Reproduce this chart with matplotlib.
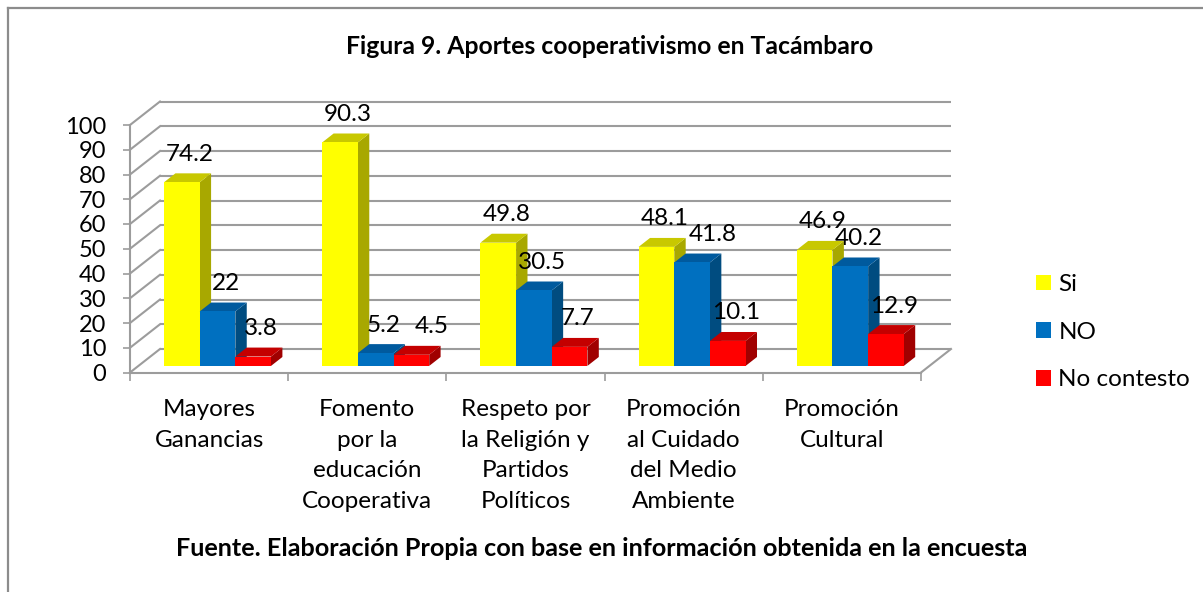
import matplotlib
matplotlib.use("Agg")
import matplotlib.pyplot as plt
from matplotlib.patches import Polygon
from matplotlib.lines import Line2D
import numpy as np

categories = ["Mayores\nGanancias", "Fomento\npor la\neducación\nCooperativa",
              "Respeto por\nla Religión y\nPartidos\nPolíticos",
              "Promoción\nal Cuidado\ndel Medio\nAmbiente", "Promoción\nCultural"]
series_names = ["Si", "NO", "No contesto"]
si = [74.2, 90.3, 49.8, 48.1, 46.9]
no = [22, 5.2, 30.5, 41.8, 40.2]
no_contesto = [3.8, 4.5, 7.7, 10.1, 12.9]
value_labels = [["74.2", "90.3", "49.8", "48.1", "46.9"],
                ["22", "5.2", "30.5", "41.8", "40.2"],
                ["3.8", "4.5", "7.7", "10.1", "12.9"]]
y_ticks = list(range(0, 101, 10))

title = "Figura 9. Aportes cooperativismo en Tacámbaro"
footer = "Fuente. Elaboración Propia con base en información obtenida en la encuesta"

FONT = "Lato"
plt.rcParams["font.family"] = [FONT, "DejaVu Sans"]

W, H = 1203, 592
fig = plt.figure(figsize=(W / 100, H / 100), dpi=100)
fig.patch.set_facecolor("white")

# front plane of the plot in pixels
x0_px, x1_px = 130, 921
y0_px, y100_px = 372.5, 125
ax = fig.add_axes([x0_px / W, (H - y0_px) / H, (x1_px - x0_px) / W, (y0_px - y100_px) / H])
ncat = len(categories)
ax.set_xlim(0, ncat)
ax.set_ylim(0, 100)
ux = (x1_px - x0_px) / ncat
uy = (y0_px - y100_px) / 100.0

# depth vector (front->back) in data units
DX = 30 / ux
DY = 23.5 / uy

grid_c = "#9c9c9c"
glw = 1.5
# back wall gridlines and left wall diagonals
for v in y_ticks:
    ax.plot([DX, ncat + DX], [v + DY, v + DY], color=grid_c, lw=glw, clip_on=False, zorder=1,
            solid_capstyle="butt")
    ax.plot([0, DX], [v, v + DY], color=grid_c, lw=glw, clip_on=False, zorder=1)
# floor right edge
ax.plot([ncat, ncat + DX], [0, DY], color=grid_c, lw=glw, clip_on=False, zorder=1)

colors = [("#FFFF00", "#A8A800", "#C8C800"),
          ("#0070C0", "#004C80", "#005A9E"),
          ("#FF0000", "#A00000", "#C40000")]
series = [si, no, no_contesto]

d0 = 0.28     # depth of front face of bars
dd = 0.38     # depth of bars
bw = 0.2254
gstart = 0.162
bx = d0 * DX
by = d0 * DY
ddx = dd * DX
ddy = dd * DY

# extra horizontal nudges (pixels) for labels that would collide
label_nudge = {(1, 3): 13, (2, 1): 12}

handles = []
for i in range(ncat):
    for s, vals in enumerate(series):
        v = vals[i]
        xl = i + gstart + s * bw + bx
        xr = xl + bw
        front, side, top = colors[s]
        side_poly = Polygon([(xr, by), (xr + ddx, by + ddy), (xr + ddx, by + v + ddy), (xr, by + v)],
                            closed=True, facecolor=side, edgecolor="none", clip_on=False, zorder=3)
        top_poly = Polygon([(xl, by + v), (xr, by + v), (xr + ddx, by + v + ddy), (xl + ddx, by + v + ddy)],
                           closed=True, facecolor=top, edgecolor="none", clip_on=False, zorder=3)
        ax.add_patch(side_poly)
        ax.add_patch(top_poly)
        b = ax.bar(xl, v, width=bw, bottom=by, align="edge", color=front, edgecolor="none",
                   zorder=3, clip_on=False)
        if i == 0:
            handles.append(b)
        nx = 8 + label_nudge.get((s, i), 0)
        ax.annotate(value_labels[s][i], xy=(xl + bw / 2, by + v + ddy), xytext=(nx, 19),
                    textcoords="offset pixels", ha="center", va="center",
                    fontsize=17.5, color="black", zorder=5, annotation_clip=False)

# axes styling
for sp in ["top", "right"]:
    ax.spines[sp].set_visible(False)
for sp in ["left", "bottom"]:
    ax.spines[sp].set_color(grid_c)
    ax.spines[sp].set_linewidth(glw)
ax.set_facecolor("none")
ax.set_yticks(y_ticks)
ax.set_yticklabels([str(t) for t in y_ticks], fontsize=17)
ax.tick_params(axis="y", direction="out", length=5, width=1.2, color=grid_c, pad=12)
ax.set_xticks(np.arange(0, ncat + 1))
ax.set_xticklabels([""] * (ncat + 1))
ax.tick_params(axis="x", which="major", direction="out", length=5.5, width=1.2, color=grid_c)
ax.set_xticks(np.arange(ncat) + 0.5, minor=True)
ax.set_xticklabels(categories, minor=True, fontsize=17.5, linespacing=1.57)
ax.tick_params(axis="x", which="minor", length=0, pad=19)

# legend
fig.legend(handles, series_names, loc="upper left",
           bbox_to_anchor=(1036 / W, (H - 274) / H), frameon=False, fontsize=17.5,
           handlelength=0.62, handleheight=0.62, handletextpad=0.3, labelspacing=1.1,
           borderpad=0, borderaxespad=0)

fig.text(610 / W, 1 - 47 / H, title, ha="center", va="center", fontsize=17.8, fontweight="bold")
fig.text(602 / W, 1 - 549 / H, footer, ha="center", va="center", fontsize=18.2, fontweight="bold")

# outer border
border_c = "#8c8c8c"
fig.add_artist(Line2D([7.5 / W, 7.5 / W], [0, 1 - 8 / H], transform=fig.transFigure, color=border_c, lw=1.6))
fig.add_artist(Line2D([7.5 / W, 1], [1 - 8 / H, 1 - 8 / H], transform=fig.transFigure, color=border_c, lw=1.6))

fig.savefig("out.png", dpi=100, facecolor="white")
